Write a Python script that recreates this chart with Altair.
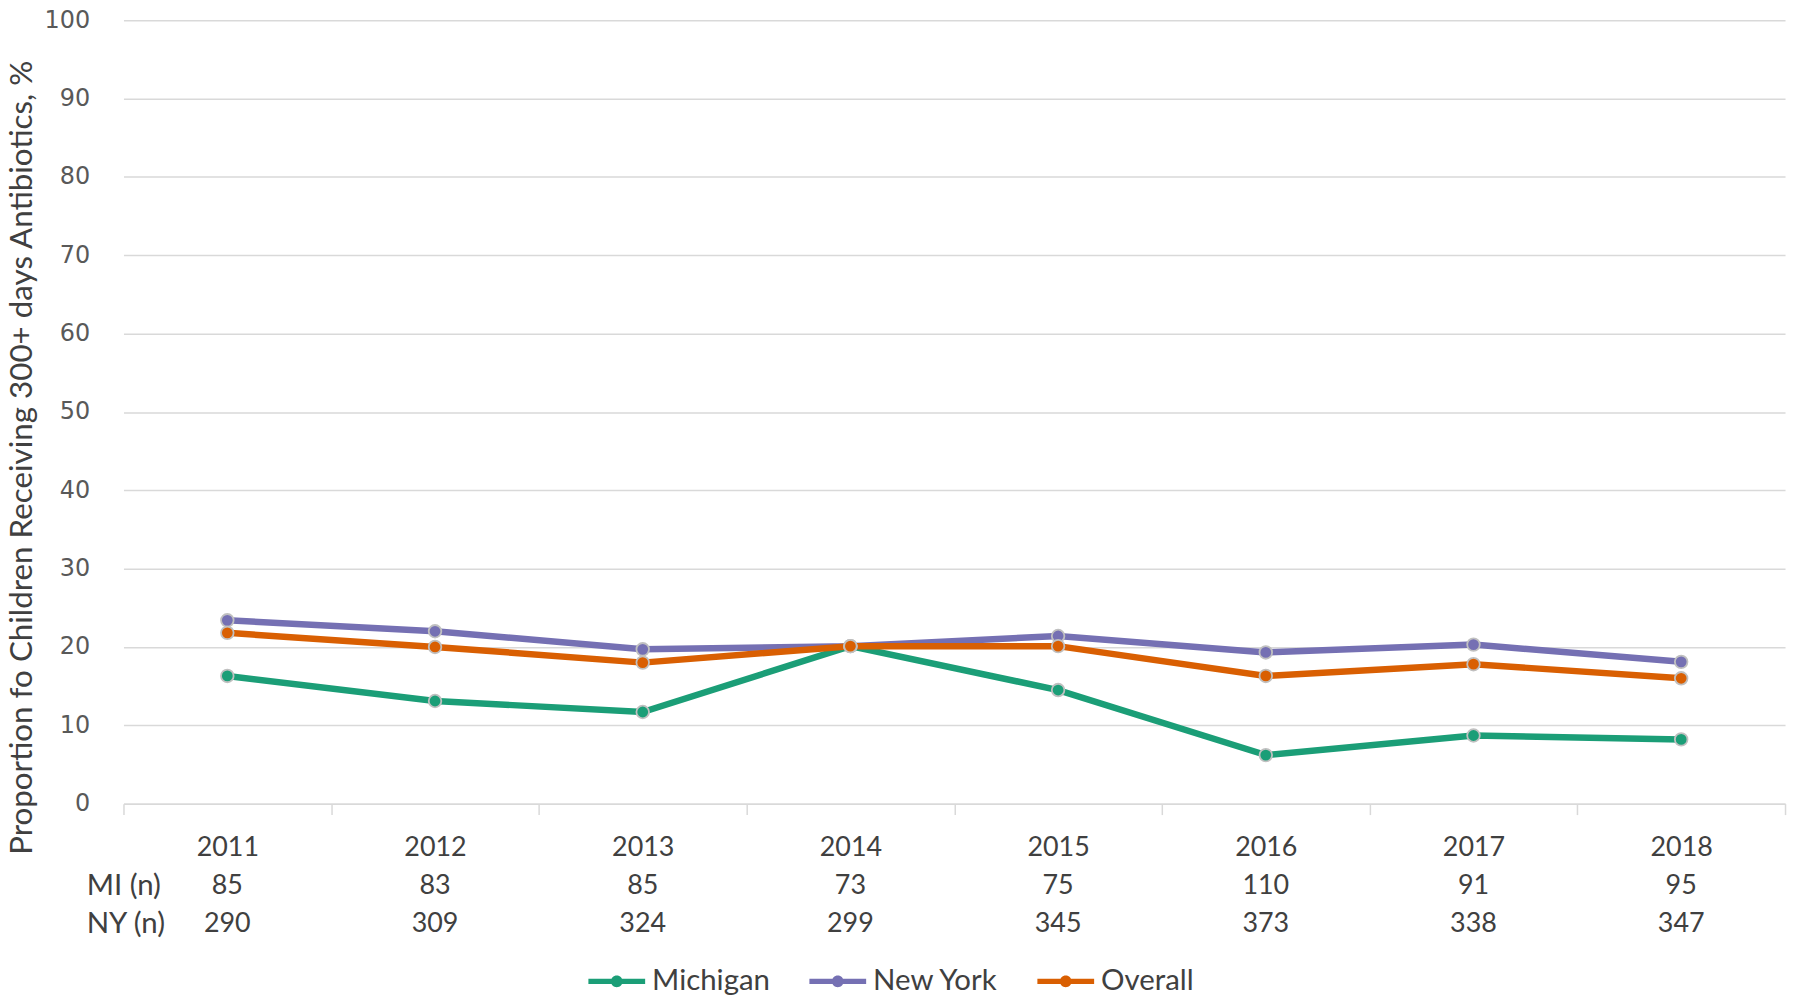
import altair as alt
import pandas as pd

years = ["2011", "2012", "2013", "2014", "2015", "2016", "2017", "2018"]
series_names = ["Michigan", "New York", "Overall"]
michigan = [16.3, 13.1, 11.7, 20.1, 14.5, 6.2, 8.7, 8.2]
new_york = [23.4, 22.0, 19.7, 20.1, 21.4, 19.3, 20.3, 18.1]
overall = [21.8, 20.0, 18.0, 20.1, 20.1, 16.3, 17.8, 16.0]
mi_n = [85, 83, 85, 73, 75, 110, 91, 95]
ny_n = [290, 309, 324, 299, 345, 373, 338, 347]
row_labels = ["MI (n)", "NY (n)"]
colors = ["#1b9e77", "#7570b3", "#d95f02"]
y_ticks = [0, 10, 20, 30, 40, 50, 60, 70, 80, 90, 100]

rows = []
for name, vals in zip(series_names, [michigan, new_york, overall]):
    for yr, v in zip(years, vals):
        rows.append({"year": yr, "series": name, "value": v})
df = pd.DataFrame(rows)

counts = pd.DataFrame({"year": years, "mi": mi_n, "ny": ny_n})

W, H = 1669, 787
FONT = "Lato"
TXT = "#404040"
ROW1, ROW2 = 870, 908

xenc = alt.X("year:N", sort=years,
             scale=alt.Scale(type="band", paddingInner=0, paddingOuter=0),
             axis=alt.Axis(title=None, labelAngle=0, tickBand="extent",
                           ticks=True, tickSize=11, tickColor="#d9d9d9", tickWidth=1.5,
                           domain=True, domainColor="#d9d9d9", domainWidth=1.5,
                           grid=False, labelFont=FONT, labelFontSize=27,
                           labelColor=TXT, labelBaseline="middle", labelPadding=33))
yenc = alt.Y("value:Q", scale=alt.Scale(domain=[0, 100], nice=False),
             axis=alt.Axis(values=y_ticks, title="Proportion fo Children Receiving 300+ days Antibiotics, %",
                           domain=False, ticks=False, grid=True, gridColor="#d9d9d9", gridWidth=1.5,
                           labelFont="DejaVu Sans", labelFontSize=24, labelColor="#595959",
                           labelPadding=34,
                           titleFont=FONT, titleFontSize=31.5, titleFontWeight="normal",
                           titleColor=TXT, titleX=-101, titleY=439, titleAngle=270,
                           titleAlign="center", titleBaseline="middle"))

legend_path = ("M-1,-0.095L1,-0.095L1,0.095L-1,0.095Z "
               "M-0.21,0A0.21,0.21 0 1,1 0.21,0A0.21,0.21 0 1,1 -0.21,0Z")

cenc = alt.Color("series:N", scale=alt.Scale(domain=series_names, range=colors),
                 legend=alt.Legend(title=None, orient="none", legendX=467, legendY=937,
                                   direction="horizontal", columns=3,
                                   symbolType=legend_path, symbolSize=3249,
                                   symbolStrokeWidth=0, symbolOpacity=1,
                                   labelFont=FONT, labelFontSize=29.5, labelColor=TXT,
                                   labelOffset=7, columnPadding=39, labelLimit=300))

lines = alt.Chart(df).mark_line(strokeWidth=6.5).encode(
    x=xenc, y=yenc, color=cenc, detail="series:N",
)
points = alt.Chart(df).mark_point(filled=True, shape="circle", size=160,
                                  stroke="#c0c0c0", strokeWidth=1.8, opacity=1).encode(
    x=xenc, y=yenc, color=cenc,
)

txt = dict(font=FONT, fontSize=27, color=TXT, baseline="middle")
mi_text = alt.Chart(counts).mark_text(**txt).encode(
    x=alt.X("year:N", sort=years), y=alt.value(ROW1), text="mi:N")
ny_text = alt.Chart(counts).mark_text(**txt).encode(
    x=alt.X("year:N", sort=years), y=alt.value(ROW2), text="ny:N")
lab = dict(font=FONT, fontSize=29.5, color=TXT, baseline="middle", align="left")
mi_label = alt.Chart(pd.DataFrame({"label": [row_labels[0]]})).mark_text(**lab).encode(
    x=alt.value(-37), y=alt.value(ROW1), text="label:N")
ny_label = alt.Chart(pd.DataFrame({"label": [row_labels[1]]})).mark_text(**lab).encode(
    x=alt.value(-37), y=alt.value(ROW2), text="label:N")

chart = alt.layer(lines, points, mi_text, ny_text, mi_label, ny_label).properties(
    width=W, height=H,
    autosize=alt.AutoSizeParams(type="none"),
    padding={"left": 116, "top": 10, "right": 7, "bottom": 193},
).configure_view(stroke=None)

chart.save("out.html", embed_options={"renderer": "svg", "actions": False})
